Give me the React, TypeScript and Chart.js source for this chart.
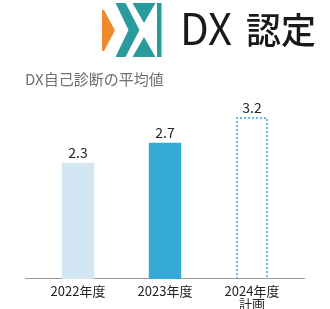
import React, { useEffect, useRef } from "react";
import { Chart, registerables } from "chart.js";

Chart.register(...registerables);

const YEARS = ["2022年度", "2023年度", "2024年度"];
const NOTES = ["", "", "計画"];
const VALUES = [2.3, 2.7, 3.2];
const PLANNED = [false, false, true];

const TITLE = "DX自己診断の平均値";
const FONT = "'Noto Sans CJK JP', 'Noto Sans', sans-serif";

const BAR_FILL = ["#d3e6f4", "#36aad7", "rgba(0,0,0,0)"];
const PLAN_BORDER = "#5cc0ea";

const axisLinePlugin = {
  id: "axisLine",
  beforeDatasetsDraw(chart: any) {
    const { ctx, chartArea } = chart;
    const y = Math.round(chart.scales.y.getPixelForValue(0)) - 0.5;
    ctx.save();
    ctx.strokeStyle = "#9a9a9a";
    ctx.lineWidth = 1;
    ctx.beginPath();
    ctx.moveTo(chartArea.left - 9.5, y);
    ctx.lineTo(chartArea.right + 9.5, y);
    ctx.stroke();
    ctx.restore();
  },
};

const planAndLabelsPlugin = {
  id: "planAndLabels",
  afterDatasetsDraw(chart: any) {
    const { ctx } = chart;
    const meta = chart.getDatasetMeta(0);
    ctx.save();
    meta.data.forEach((el: any, i: number) => {
      const { x, y, base, width } = el.getProps(["x", "y", "base", "width"], true);
      if (PLANNED[i]) {
        const l = Math.round(x - width / 2) + 1;
        const r = Math.round(x + width / 2) - 1;
        const t = Math.round(y) + 1;
        const b = Math.round(base);
        ctx.strokeStyle = PLAN_BORDER;
        ctx.lineWidth = 2;
        ctx.setLineDash([2, 2]);
        ctx.beginPath();
        ctx.moveTo(l, b);
        ctx.lineTo(l, t);
        ctx.lineTo(r, t);
        ctx.lineTo(r, b);
        ctx.stroke();
        ctx.setLineDash([]);
      }
      ctx.fillStyle = "#222";
      ctx.font = `14px ${FONT}`;
      ctx.textAlign = "center";
      ctx.textBaseline = "bottom";
      ctx.fillText(VALUES[i].toFixed(1), x, y - 3);
    });
    ctx.restore();
  },
};

function BarChart() {
  const ref = useRef<HTMLCanvasElement | null>(null);
  useEffect(() => {
    if (!ref.current) return;
    const labels = YEARS.map((y, i) => (NOTES[i] ? [y, NOTES[i]] : y));
    const chart = new Chart(ref.current, {
      type: "bar",
      data: {
        labels,
        datasets: [
          {
            data: VALUES,
            backgroundColor: BAR_FILL,
            borderWidth: 0,
            categoryPercentage: 1,
            barPercentage: 0.372,
          },
        ],
      },
      options: {
        animation: false,
        responsive: false,
        devicePixelRatio: 1,
        layout: { padding: { left: 34.5, right: 34.5, top: 102.25, bottom: 0 } },
        plugins: { legend: { display: false }, tooltip: { enabled: false } },
        scales: {
          y: { display: false, min: 0, max: 3.5 },
          x: {
            grid: { display: false, drawTicks: false },
            border: { display: false },
            ticks: {
              color: "#222",
              padding: 5.5,
              font: { family: FONT, size: 13, lineHeight: 1.0 },
            },
          },
        },
      },
      plugins: [axisLinePlugin, planAndLabelsPlugin],
    });
    return () => chart.destroy();
  }, []);
  return (
    <canvas
      ref={ref}
      width={330}
      height={316}
      style={{ position: "absolute", left: 0, top: 0, width: 330, height: 316 }}
    />
  );
}

function Header() {
  return (
    <svg
      width={330}
      height={100}
      style={{ position: "absolute", left: 0, top: 0, pointerEvents: "none" }}
    >
      <polygon points="102,10 104,10 115,30.5 104,51 102,51" fill="#ee8a2e" />
      <polygon
        points="115.5,3 125.5,3 139.5,30 125.5,57 115.5,57 128.5,30"
        fill="#2a9b9d"
      />
      <polygon points="132.5,3 155.5,3 144,23" fill="#2a9b9d" />
      <polygon points="132.5,57 155.5,57 144,37" fill="#2a9b9d" />
      <rect x={157} y={3} width={4.5} height={54} fill="#2a9b9d" />
      <text
        x={180}
        y={45}
        fontFamily={FONT}
        fontWeight={400}
        fontSize={43}
        textLength={52}
        lengthAdjust="spacingAndGlyphs"
        fill="#1a1a1a"
      >
        DX
      </text>
      <text
        x={246}
        y={44}
        fontFamily={FONT}
        fontWeight={500}
        fontSize={36}
        textLength={70}
        lengthAdjust="spacingAndGlyphs"
        fill="#1a1a1a"
      >
        認定
      </text>
      <text x={25} y={85} fontFamily={FONT} fontSize={15} fill="#6e6e6e">
        {TITLE}
      </text>
    </svg>
  );
}

export default function App() {
  return (
    <div
      style={{
        position: "absolute",
        left: 0,
        top: 0,
        width: 330,
        height: 309,
        overflow: "hidden",
        background: "#fff",
      }}
    >
      <BarChart />
      <Header />
    </div>
  );
}
